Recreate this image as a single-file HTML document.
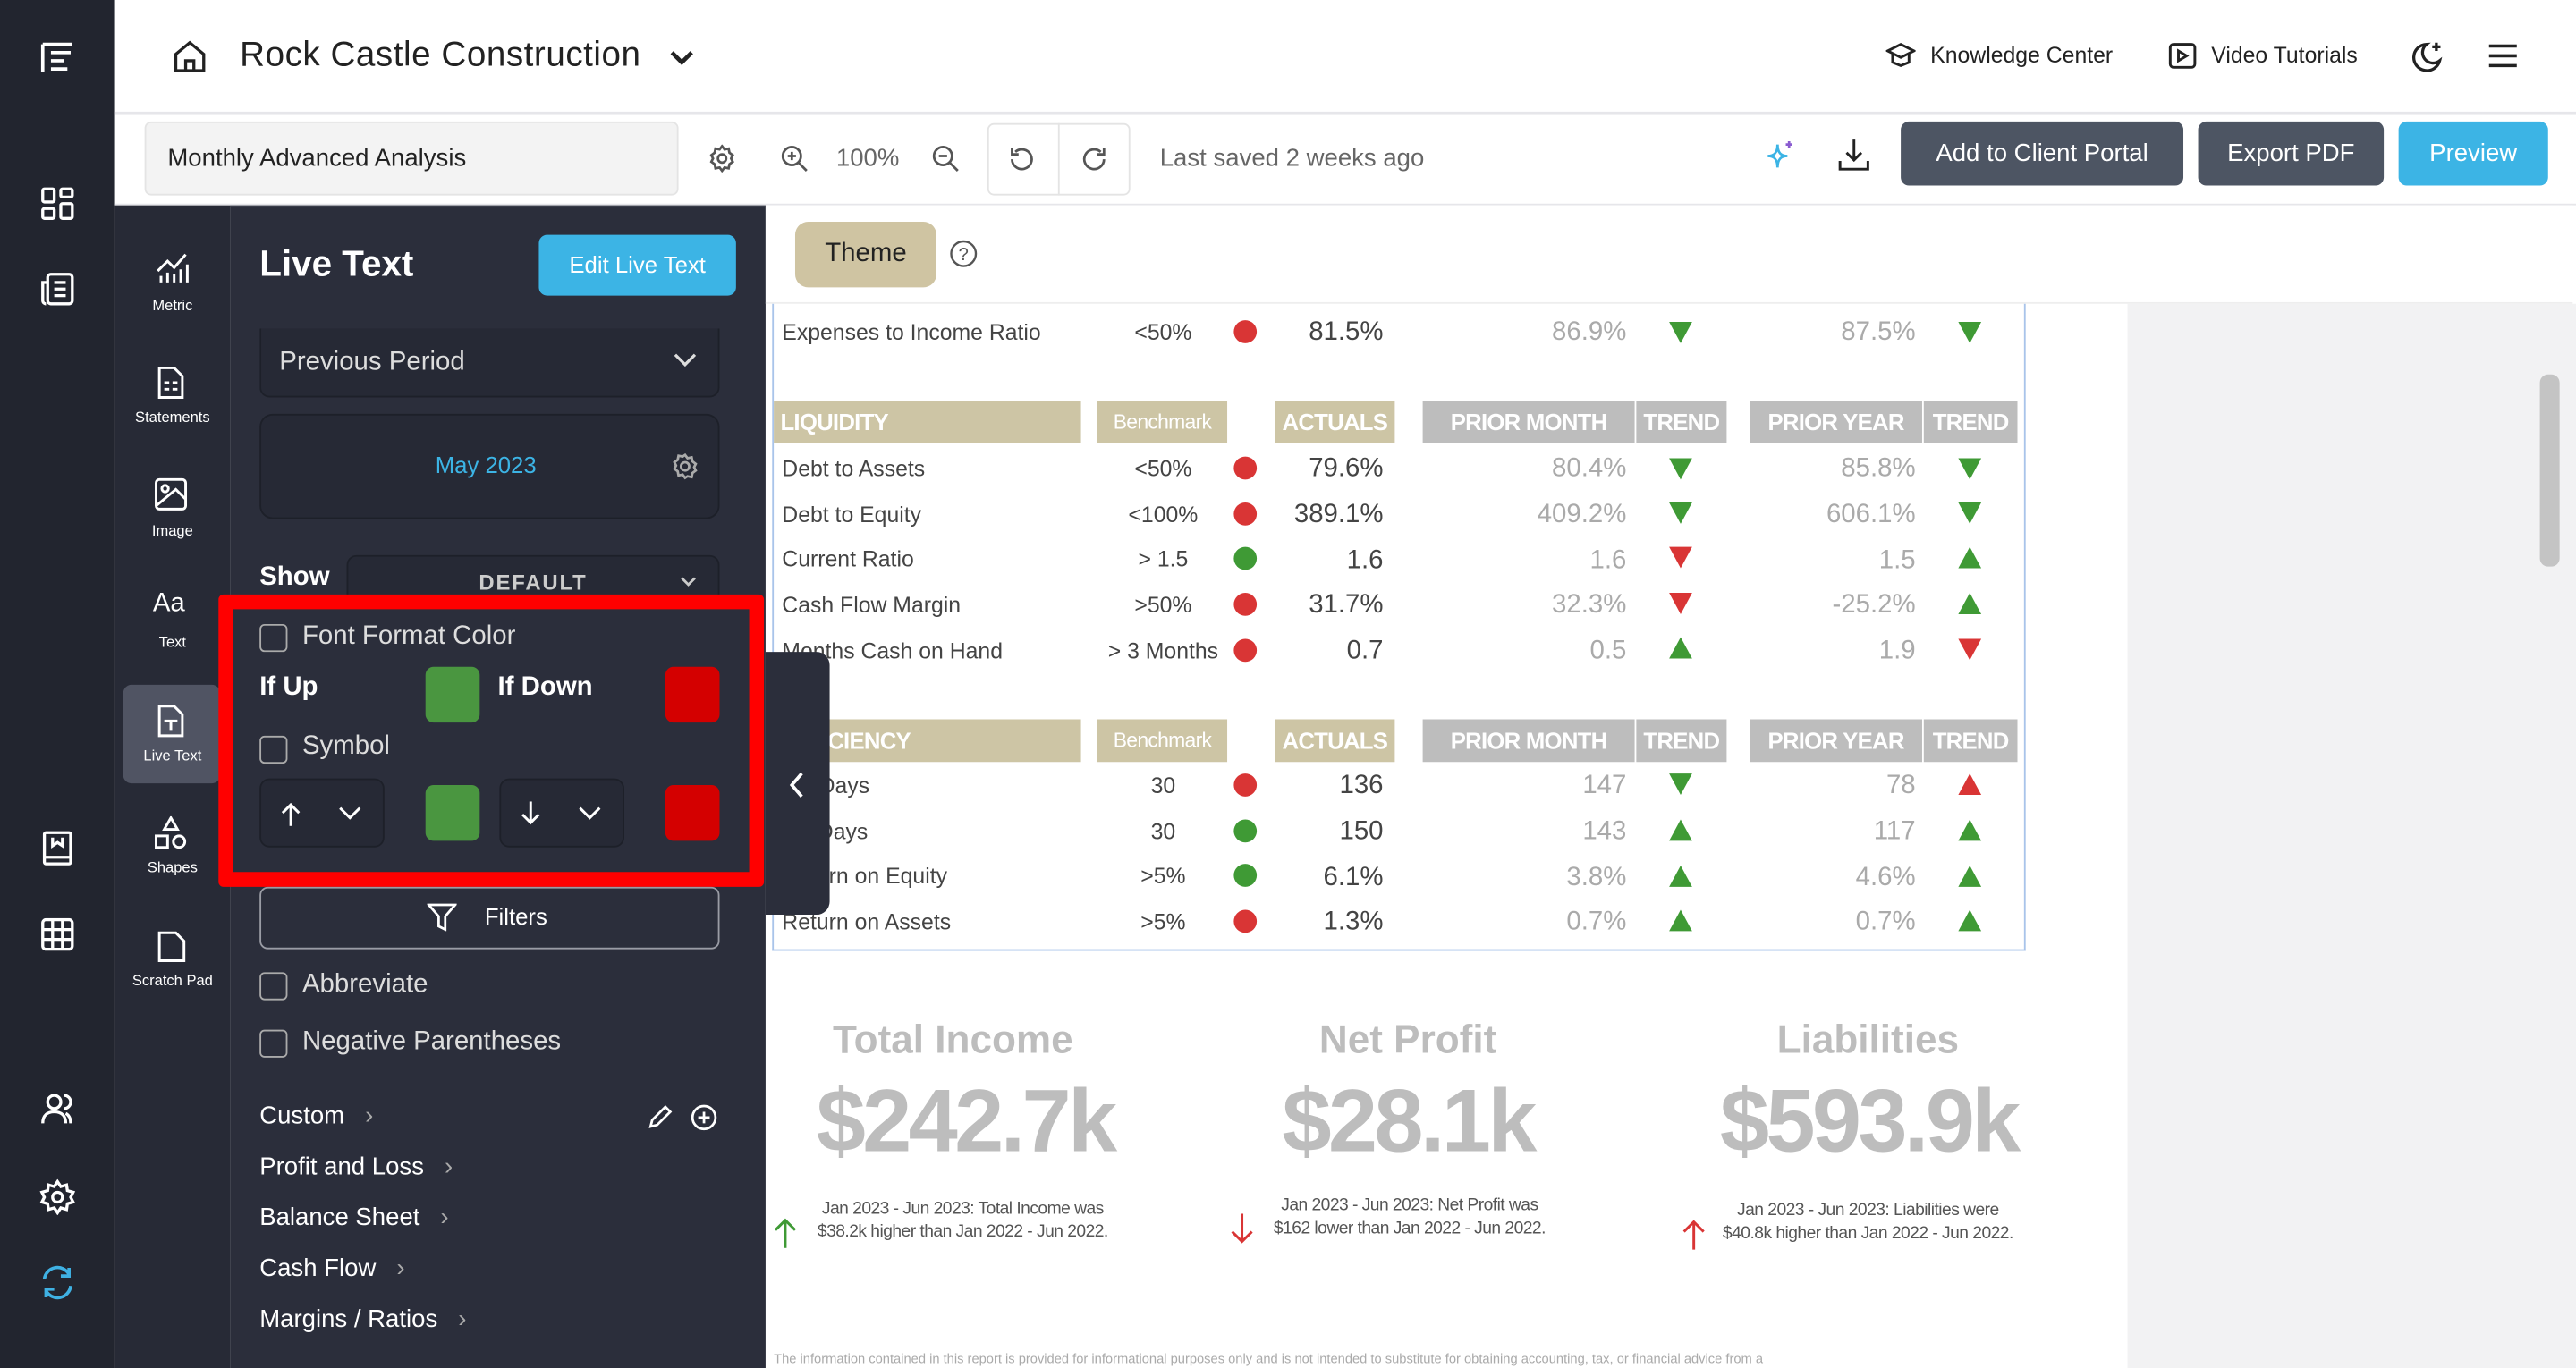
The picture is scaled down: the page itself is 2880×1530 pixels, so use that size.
<!DOCTYPE html>
<html><head><meta charset="utf-8"><style>
*{box-sizing:border-box;margin:0;padding:0}
html,body{width:2880px;height:1530px;overflow:hidden;background:#fff}
#s{position:absolute;left:0;top:0;width:1568px;height:833px;transform:scale(1.836735);transform-origin:0 0;font-family:"Liberation Sans",sans-serif;overflow:hidden;background:#fff}
.a{position:absolute}
.t{position:absolute;white-space:nowrap}
.n{font-family:"Liberation Sans Narrow","Liberation Sans",sans-serif}
.L{position:absolute;left:0;top:0;width:1568px;height:833px}
.ic{position:absolute;color:#fff;font-size:9px;text-align:center;width:70px}
.hd{position:absolute;height:26px;color:#fff;font-weight:bold;font-size:14px;letter-spacing:-0.4px;line-height:27px;background:#cdc5a5;overflow:hidden;white-space:nowrap}
.gh{background:#bdbdbd}
.dot{position:absolute;width:14px;height:14px;border-radius:50%}
.r{background:#d93535}.g{background:#3f9a35}
.tu,.td{position:absolute;width:0;height:0;border-left:7px solid transparent;border-right:7px solid transparent}
.tu{border-bottom:13px solid #3f9a35}
.td{border-top:13px solid #3f9a35}
.tu.x{border-bottom-color:#d93535}.td.x{border-top-color:#d93535}
.lb{position:absolute;left:476px;font-size:13.5px;color:#444}
.bm{position:absolute;width:80px;left:668px;text-align:center;font-size:13.5px;color:#444}
.ac{position:absolute;right:726px;font-size:16px;color:#444}
.pm{position:absolute;right:578px;font-size:16px;color:#aaa}
.py{position:absolute;right:402px;font-size:16px;color:#aaa}
.cb{position:absolute;width:17px;height:17px;border:1.5px solid #aaa;border-radius:3px}
</style></head><body><div id="s">
<!-- left bar -->
<div class="a" style="left:0;top:0;width:70px;height:833px;background:#22252f"></div>
<div class="a" style="left:70px;top:125px;width:70px;height:708px;background:#272a36"></div>
<div class="a" style="left:140px;top:125px;width:326px;height:708px;background:#2b2e3b"></div>
<div class="a" style="left:140px;top:125px;width:326px;height:1px;background:#3a3d4a"></div>
<svg class="a" style="left:24px;top:24px" width="22" height="22" viewBox="0 0 22 22" fill="none" stroke="#fff" stroke-width="2"><path d="M2 3h18M2 3v17M7 8h12M7 13h8M7 18h10"/></svg>
<svg class="a" style="left:25px;top:114px" width="20" height="20" fill="none" stroke="#fff" stroke-width="1.8"><rect x="1" y="1" width="7" height="8" rx="1"/><rect x="12" y="1" width="7" height="5" rx="1"/><rect x="1" y="13" width="7" height="6" rx="1"/><rect x="12" y="10" width="7" height="9" rx="1"/></svg>
<svg class="a" style="left:25px;top:166px" width="20" height="20" fill="none" stroke="#fff" stroke-width="1.8"><rect x="4" y="1" width="15" height="18" rx="2"/><path d="M4 6H1v11a2 2 0 0 0 2 2M8 6h7M8 10h7M8 14h7"/></svg>
<svg class="a" style="left:25px;top:506px" width="20" height="22" fill="none" stroke="#fff" stroke-width="1.8"><rect x="2" y="1" width="16" height="19" rx="1"/><path d="M2 16h16M7 4v5l3-2 3 2V4"/></svg>
<svg class="a" style="left:25px;top:559px" width="20" height="20" fill="none" stroke="#fff" stroke-width="1.8"><rect x="1" y="1" width="18" height="18" rx="2"/><path d="M1 7h18M1 13h18M7 1v18M13 1v18"/></svg>
<svg class="a" style="left:24px;top:665px" width="22" height="20" fill="none" stroke="#fff" stroke-width="1.8"><circle cx="9" cy="6" r="4"/><path d="M2 19c0-5 3-7 7-7s7 2 7 7M15 2a4 4 0 0 1 0 8M19 19c0-3-1-5-3-6"/></svg>
<svg class="a" style="left:24px;top:718px" width="22" height="22" fill="none" stroke="#fff" stroke-width="1.8"><circle cx="11" cy="11" r="3"/><path d="M11 1.5l2 3 3.5-1 .5 3.5 3.5 1-1.5 3 1.5 3-3.5 1-.5 3.5-3.5-1-2 3-2-3-3.5 1-.5-3.5-3.5-1 1.5-3-1.5-3 3.5-1 .5-3.5 3.5 1z"/></svg>
<svg class="a" style="left:24px;top:770px" width="22" height="22" fill="none" stroke="#3fb1e3" stroke-width="2"><path d="M3 9a8 8 0 0 1 15-3M19 13a8 8 0 0 1-15 3M18 2v5h-5M4 20v-5h5"/></svg>
<svg class="a" style="left:94px;top:153px" width="22" height="20" fill="none" stroke="#fff" stroke-width="1.6"><path d="M2 12l6-6 4 4 7-8M4 19v-4M8 19v-6M12 19v-5M16 19v-8M20 19v-11"/></svg>
<div class="ic" style="left:70px;top:181px">Metric</div>
<svg class="a" style="left:95px;top:222px" width="18" height="22" fill="none" stroke="#fff" stroke-width="1.6"><path d="M2 2h9l5 5v13H2z"/><path d="M5 11h3M10 11h3M5 15h3M10 15h3"/></svg>
<div class="ic" style="left:70px;top:249px">Statements</div>
<svg class="a" style="left:94px;top:291px" width="20" height="20" fill="none" stroke="#fff" stroke-width="1.6"><rect x="1" y="1" width="18" height="18" rx="2"/><circle cx="6.5" cy="6.5" r="2"/><path d="M1 17l12-10 6 6"/></svg>
<div class="ic" style="left:70px;top:318px">Image</div>
<div class="t" style="left:93px;top:359px;color:#fff;font-size:16px">Aa</div>
<div class="ic" style="left:70px;top:386px">Text</div>
<div class="a" style="left:75px;top:417px;width:59px;height:60px;border-radius:5px;background:#505463"></div>
<svg class="a" style="left:95px;top:428px" width="18" height="22" fill="none" stroke="#fff" stroke-width="1.6"><path d="M2 2h9l5 5v13H2z"/><path d="M5 11h8M9 11v6"/></svg>
<div class="ic" style="left:70px;top:455px">Live Text</div>
<svg class="a" style="left:94px;top:497px" width="20" height="20" fill="none" stroke="#fff" stroke-width="1.6"><path d="M10 1l4 7H6z"/><rect x="1" y="12" width="7" height="7"/><circle cx="15" cy="15.5" r="3.5"/></svg>
<div class="ic" style="left:70px;top:592px">Scratch Pad</div>
<div class="ic" style="left:70px;top:523px">Shapes</div>
<svg class="a" style="left:95px;top:566px" width="18" height="20" fill="none" stroke="#fff" stroke-width="1.6"><path d="M2 2h10l5 5v12H2z"/></svg>
<!-- panel -->
<div class="t" style="left:158px;top:148px;color:#fff;font-size:22px;font-weight:bold">Live Text</div>
<div class="a" style="left:328px;top:143px;width:120px;height:37px;border-radius:5px;background:#3cb4e5;color:#fff;font-size:14px;text-align:center;line-height:37px">Edit Live Text</div>
<div class="a" style="left:158px;top:200px;width:280px;height:42px;border:1px solid #1d2029;border-top:none;border-radius:0 0 6px 6px;background:#262935"></div>
<div class="t" style="left:170px;top:212px;color:#ddd;font-size:16px">Previous Period</div>
<svg class="a" style="left:410px;top:214px" width="14" height="10" fill="none" stroke="#ddd" stroke-width="1.8"><path d="M1 2l6 6 6-6"/></svg>
<div class="a" style="left:158px;top:252px;width:280px;height:64px;border:1px solid #1d2029;border-radius:8px;background:#262935"></div>
<div class="t" style="left:265px;top:275px;color:#3cb4e5;font-size:14px">May 2023</div>
<svg class="a" style="left:409px;top:276px" width="16" height="16" fill="none" stroke="#aaa" stroke-width="1.5"><circle cx="8" cy="8" r="2.5"/><path d="M8 1l1.5 2 2.5-.5.5 2.5 2 1.5-1 2 1 2-2 1.5-.5 2.5-2.5-.5L8 15l-1.5-2-2.5.5-.5-2.5-2-1.5 1-2-1-2 2-1.5.5-2.5 2.5.5z"/></svg>
<div class="t" style="left:158px;top:343px;color:#fff;font-size:16px;font-weight:bold">Show</div>
<div class="a" style="left:211px;top:338px;width:227px;height:30px;border:1px solid #1d2029;border-radius:6px;background:#262935;color:#ccc;font-size:13px;font-weight:bold;letter-spacing:1px;text-align:center;line-height:32px">DEFAULT</div>
<svg class="a" style="left:414px;top:351px" width="10" height="7" fill="none" stroke="#ccc" stroke-width="1.5"><path d="M1 1l4 4 4-4"/></svg>
<div class="a" style="left:133px;top:362px;width:332px;height:178px;border:9px solid #ff0000;border-radius:3px"></div>
<div class="cb" style="left:158px;top:380px"></div>
<div class="t" style="left:184px;top:379px;color:#ddd;font-size:16px">Font Format Color</div>
<div class="t" style="left:158px;top:410px;color:#fff;font-size:16px;font-weight:bold">If Up</div>
<div class="a" style="left:259px;top:406px;width:33px;height:34px;border-radius:5px;background:#4a9640"></div>
<div class="t" style="left:303px;top:410px;color:#fff;font-size:16px;font-weight:bold">If Down</div>
<div class="a" style="left:405px;top:406px;width:33px;height:34px;border-radius:5px;background:#d40000"></div>
<div class="cb" style="left:158px;top:448px"></div>
<div class="t" style="left:184px;top:446px;color:#ddd;font-size:16px">Symbol</div>
<div class="a" style="left:158px;top:474px;width:76px;height:42px;border:1px solid #1d2029;border-radius:6px;background:#262935"></div>
<svg class="a" style="left:171px;top:488px" width="12" height="15" fill="none" stroke="#fff" stroke-width="1.6"><path d="M6 15V2M1 7l5-5 5 5"/></svg>
<svg class="a" style="left:206px;top:491px" width="14" height="9" fill="none" stroke="#fff" stroke-width="1.6"><path d="M1 1l6 6 6-6"/></svg>
<div class="a" style="left:259px;top:478px;width:33px;height:34px;border-radius:5px;background:#4a9640"></div>
<div class="a" style="left:304px;top:474px;width:76px;height:42px;border:1px solid #1d2029;border-radius:6px;background:#262935"></div>
<svg class="a" style="left:317px;top:488px" width="12" height="15" fill="none" stroke="#fff" stroke-width="1.6"><path d="M6 0v13M1 8l5 5 5-5"/></svg>
<svg class="a" style="left:352px;top:491px" width="14" height="9" fill="none" stroke="#fff" stroke-width="1.6"><path d="M1 1l6 6 6-6"/></svg>
<div class="a" style="left:405px;top:478px;width:33px;height:34px;border-radius:5px;background:#d40000"></div>
<div class="a" style="left:158px;top:540px;width:280px;height:38px;border:1.5px solid #9a9ca5;border-radius:5px"></div>
<svg class="a" style="left:260px;top:550px" width="18" height="17" fill="none" stroke="#fff" stroke-width="1.5"><path d="M1 1h16l-6 7v8l-4-2V8z"/></svg>
<div class="t" style="left:295px;top:550px;color:#fff;font-size:14px">Filters</div>
<div class="cb" style="left:158px;top:592px"></div>
<div class="t" style="left:184px;top:591px;color:#ddd;font-size:16px">Abbreviate</div>
<div class="cb" style="left:158px;top:627px"></div>
<div class="t" style="left:184px;top:626px;color:#ddd;font-size:16px">Negative Parentheses</div>
<div class="t" style="left:158px;top:671px;color:#fff;font-size:15px">Custom &nbsp;&nbsp;<span style="color:#aaa">›</span></div>
<svg class="a" style="left:394px;top:672px" width="16" height="16" fill="none" stroke="#fff" stroke-width="1.5"><path d="M2 14l1-4 8-8 3 3-8 8z"/></svg>
<svg class="a" style="left:420px;top:672px" width="17" height="17" fill="none" stroke="#fff" stroke-width="1.5"><circle cx="8.5" cy="8.5" r="7"/><path d="M8.5 5v7M5 8.5h7"/></svg>
<div class="t" style="left:158px;top:702px;color:#fff;font-size:15px">Profit and Loss &nbsp;&nbsp;<span style="color:#aaa">›</span></div>
<div class="t" style="left:158px;top:733px;color:#fff;font-size:15px">Balance Sheet &nbsp;&nbsp;<span style="color:#aaa">›</span></div>
<div class="t" style="left:158px;top:764px;color:#fff;font-size:15px">Cash Flow &nbsp;&nbsp;<span style="color:#aaa">›</span></div>
<div class="t" style="left:158px;top:795px;color:#fff;font-size:15px">Margins / Ratios &nbsp;&nbsp;<span style="color:#aaa">›</span></div>
<!-- header -->
<div class="a" style="left:70px;top:68px;width:1498px;height:2px;background:#e6e6ea"></div>
<div class="a" style="left:70px;top:124px;width:1498px;height:1px;background:#e6e6ea"></div>
<svg class="a" style="left:105px;top:24px" width="21" height="20" fill="none" stroke="#222" stroke-width="1.8"><path d="M2 9L10.5 2 19 9v10H2z"/><path d="M8 19v-6h5v6"/></svg>
<div class="t" style="left:146px;top:22px;color:#222;font-size:21px;letter-spacing:0.3px">Rock Castle Construction</div>
<svg class="a" style="left:407px;top:30px" width="16" height="11" fill="none" stroke="#222" stroke-width="2.5"><path d="M2 2l6 6 6-6"/></svg>
<svg class="a" style="left:1148px;top:26px" width="18" height="15" fill="none" stroke="#222" stroke-width="1.6"><path d="M1 5l8-4 8 4-8 4z"/><path d="M4 7v5l5 2 5-2V7"/></svg>
<div class="t" style="left:1175px;top:26px;color:#222;font-size:13.5px">Knowledge Center</div>
<svg class="a" style="left:1320px;top:26px" width="17" height="16" fill="none" stroke="#222" stroke-width="1.6"><rect x="1" y="1" width="15" height="14" rx="2"/><path d="M6 5v6l5-3z"/></svg>
<div class="t" style="left:1346px;top:26px;color:#222;font-size:13.5px">Video Tutorials</div>
<svg class="a" style="left:1468px;top:24px" width="20" height="20" fill="none" stroke="#222" stroke-width="1.8"><path d="M9 3a8 8 0 1 0 8 10 6 6 0 0 1-8-10z"/><path d="M15 2v5M12.5 4.5h5"/></svg>
<svg class="a" style="left:1515px;top:27px" width="17" height="14" stroke="#222" stroke-width="2"><path d="M0 1h17M0 7h17M0 13h17"/></svg>
<!-- toolbar -->
<div class="a" style="left:88px;top:74px;width:325px;height:45px;border:1px solid #e4e4e4;border-radius:4px;background:#f3f3f3"></div>
<div class="t" style="left:102px;top:88px;color:#222;font-size:15px">Monthly Advanced Analysis</div>
<svg class="a" style="left:431px;top:88px" width="17" height="17" fill="none" stroke="#555" stroke-width="1.5"><circle cx="8.5" cy="8.5" r="2.5"/><path d="M8.5 1l1.5 2 2.5-.5.5 2.5 2 1.5-1 2 1 2-2 1.5-.5 2.5-2.5-.5-1.5 2-1.5-2-2.5.5-.5-2.5-2-1.5 1-2-1-2 2-1.5.5-2.5 2.5.5z"/></svg>
<svg class="a" style="left:475px;top:88px" width="17" height="17" fill="none" stroke="#555" stroke-width="1.5"><circle cx="7" cy="7" r="5.5"/><path d="M11 11l5 5M4.5 7h5M7 4.5v5"/></svg>
<div class="t" style="left:509px;top:88px;color:#666;font-size:15px">100%</div>
<svg class="a" style="left:567px;top:88px" width="17" height="17" fill="none" stroke="#555" stroke-width="1.5"><circle cx="7" cy="7" r="5.5"/><path d="M11 11l5 5M4.5 7h5"/></svg>
<div class="a" style="left:601px;top:75px;width:87px;height:44px;border:1px solid #e4e4e4;border-radius:4px"></div>
<div class="a" style="left:644px;top:75px;width:1px;height:44px;background:#e4e4e4"></div>
<svg class="a" style="left:613px;top:88px" width="18" height="18" fill="none" stroke="#555" stroke-width="1.5"><path d="M3 9a6 6 0 1 0 2-4.5M3 2v4h4"/></svg>
<svg class="a" style="left:657px;top:88px" width="18" height="18" fill="none" stroke="#555" stroke-width="1.5"><path d="M15 9a6 6 0 1 1-2-4.5M15 2v4h-4"/></svg>
<div class="t" style="left:706px;top:88px;color:#666;font-size:15px">Last saved 2 weeks ago</div>
<svg class="a" style="left:1074px;top:85px" width="18" height="18" fill="none" stroke="#3cb4e5" stroke-width="1.5"><path d="M8 3c0 5 2 7 6 7-4 0-6 2-6 7 0-5-2-7-6-7 4 0 6-2 6-7z"/><path d="M15 1v4M13 3h4" stroke="#8a5bd0"/></svg>
<svg class="a" style="left:1119px;top:84px" width="19" height="20" fill="none" stroke="#222" stroke-width="1.6"><path d="M9.5 1v12M5 9l4.5 4.5L14 9M1 14v5h17v-5"/></svg>
<div class="a" style="left:1157px;top:74px;width:172px;height:39px;border-radius:5px;background:#4d5563;color:#fff;font-size:15px;text-align:center;line-height:39px">Add to Client Portal</div>
<div class="a" style="left:1338px;top:74px;width:113px;height:39px;border-radius:5px;background:#4d5563;color:#fff;font-size:15px;text-align:center;line-height:39px">Export PDF</div>
<div class="a" style="left:1460px;top:74px;width:91px;height:39px;border-radius:5px;background:#3cb4e5;color:#fff;font-size:15px;text-align:center;line-height:39px">Preview</div>
<!-- content -->
<div class="a" style="left:1295px;top:185px;width:273px;height:648px;background:#f2f2f3"></div>
<div class="a" style="left:466px;top:125px;width:1100px;height:60px;background:#fff;border-bottom:1px solid #eee"></div>
<div class="a" style="left:1546px;top:228px;width:12px;height:117px;border-radius:5px;background:#c4c4c4"></div>
<div class="a" style="left:484px;top:135px;width:86px;height:40px;border-radius:8px;background:#cfc4a2;color:#222;font-size:16px;text-align:center;line-height:40px">Theme</div>
<svg class="a" style="left:578px;top:146px" width="17" height="17" fill="none" stroke="#555" stroke-width="1.3"><circle cx="8.5" cy="8.5" r="7.5"/><text x="8.5" y="12.5" font-size="11" text-anchor="middle" fill="#555" stroke="none" font-family="Liberation Sans">?</text></svg>
<div class="a" style="left:470px;top:185px;width:763px;height:394px;border:1.5px solid #a9c4ea;border-top:none"></div>
<div class="n L">
<div class="lb t" style="top:195px">Expenses to Income Ratio</div><div class="bm t" style="top:195px">&lt;50%</div><div class="dot r" style="left:751px;top:195px"></div>
<div class="ac t" style="top:194px">81.5%</div><div class="pm t" style="top:194px">86.9%</div><div class="td" style="left:1016px;top:196px"></div><div class="py t" style="top:194px">87.5%</div><div class="td" style="left:1192px;top:196px"></div>
<div class="hd" style="left:471px;top:244px;width:187px;padding-left:4px">LIQUIDITY</div>
<div class="hd" style="left:668px;top:244px;width:79px;font-weight:normal;font-size:12.5px;text-align:center">Benchmark</div>
<div class="hd" style="left:776px;top:244px;width:73px;text-align:center">ACTUALS</div>
<div class="hd gh" style="left:866px;top:244px;width:129px;text-align:center">PRIOR MONTH</div>
<div class="hd gh" style="left:996px;top:244px;width:55px;text-align:center">TREND</div>
<div class="hd gh" style="left:1065px;top:244px;width:105px;text-align:center">PRIOR YEAR</div>
<div class="hd gh" style="left:1171px;top:244px;width:57px;text-align:center">TREND</div>
<div class="lb t" style="top:278px">Debt to Assets</div><div class="bm t" style="top:278px">&lt;50%</div><div class="dot r" style="left:751px;top:278px"></div>
<div class="ac t" style="top:277px">79.6%</div><div class="pm t" style="top:277px">80.4%</div><div class="td" style="left:1016px;top:279px"></div><div class="py t" style="top:277px">85.8%</div><div class="td" style="left:1192px;top:279px"></div>
<div class="lb t" style="top:306px">Debt to Equity</div><div class="bm t" style="top:306px">&lt;100%</div><div class="dot r" style="left:751px;top:306px"></div>
<div class="ac t" style="top:305px">389.1%</div><div class="pm t" style="top:305px">409.2%</div><div class="td" style="left:1016px;top:306px"></div><div class="py t" style="top:305px">606.1%</div><div class="td" style="left:1192px;top:306px"></div>
<div class="lb t" style="top:333px">Current Ratio</div><div class="bm t" style="top:333px">&gt; 1.5</div><div class="dot g" style="left:751px;top:333px"></div>
<div class="ac t" style="top:333px">1.6</div><div class="pm t" style="top:333px">1.6</div><div class="td x" style="left:1016px;top:333px"></div><div class="py t" style="top:333px">1.5</div><div class="tu" style="left:1192px;top:333px"></div>
<div class="lb t" style="top:361px">Cash Flow Margin</div><div class="bm t" style="top:361px">&gt;50%</div><div class="dot r" style="left:751px;top:361px"></div>
<div class="ac t" style="top:360px">31.7%</div><div class="pm t" style="top:360px">32.3%</div><div class="td x" style="left:1016px;top:361px"></div><div class="py t" style="top:360px">-25.2%</div><div class="tu" style="left:1192px;top:361px"></div>
<div class="lb t" style="top:389px">Months Cash on Hand</div><div class="bm t" style="top:389px">&gt; 3 Months</div><div class="dot r" style="left:751px;top:389px"></div>
<div class="ac t" style="top:388px">0.7</div><div class="pm t" style="top:388px">0.5</div><div class="tu" style="left:1016px;top:388px"></div><div class="py t" style="top:388px">1.9</div><div class="td x" style="left:1192px;top:389px"></div>
<div class="hd" style="left:471px;top:438px;width:187px;padding-left:4px">EFFICIENCY</div>
<div class="hd" style="left:668px;top:438px;width:79px;font-weight:normal;font-size:12.5px;text-align:center">Benchmark</div>
<div class="hd" style="left:776px;top:438px;width:73px;text-align:center">ACTUALS</div>
<div class="hd gh" style="left:866px;top:438px;width:129px;text-align:center">PRIOR MONTH</div>
<div class="hd gh" style="left:996px;top:438px;width:55px;text-align:center">TREND</div>
<div class="hd gh" style="left:1065px;top:438px;width:105px;text-align:center">PRIOR YEAR</div>
<div class="hd gh" style="left:1171px;top:438px;width:57px;text-align:center">TREND</div>
<div class="lb t" style="top:471px">AR Days</div><div class="bm t" style="top:471px">30</div><div class="dot r" style="left:751px;top:471px"></div>
<div class="ac t" style="top:470px">136</div><div class="pm t" style="top:470px">147</div><div class="td" style="left:1016px;top:471px"></div><div class="py t" style="top:470px">78</div><div class="tu x" style="left:1192px;top:471px"></div>
<div class="lb t" style="top:499px">AP Days</div><div class="bm t" style="top:499px">30</div><div class="dot g" style="left:751px;top:499px"></div>
<div class="ac t" style="top:498px">150</div><div class="pm t" style="top:498px">143</div><div class="tu" style="left:1016px;top:499px"></div><div class="py t" style="top:498px">117</div><div class="tu" style="left:1192px;top:499px"></div>
<div class="lb t" style="top:526px">Return on Equity</div><div class="bm t" style="top:526px">&gt;5%</div><div class="dot g" style="left:751px;top:526px"></div>
<div class="ac t" style="top:526px">6.1%</div><div class="pm t" style="top:526px">3.8%</div><div class="tu" style="left:1016px;top:527px"></div><div class="py t" style="top:526px">4.6%</div><div class="tu" style="left:1192px;top:527px"></div>
<div class="lb t" style="top:554px">Return on Assets</div><div class="bm t" style="top:554px">&gt;5%</div><div class="dot r" style="left:751px;top:554px"></div>
<div class="ac t" style="top:553px">1.3%</div><div class="pm t" style="top:553px">0.7%</div><div class="tu" style="left:1016px;top:554px"></div><div class="py t" style="top:553px">0.7%</div><div class="tu" style="left:1192px;top:554px"></div>
</div>
<div class="a" style="left:466px;top:397px;width:39px;height:160px;background:#2b2e3b;border-radius:0 8px 8px 0"></div>
<svg class="a" style="left:480px;top:470px" width="10" height="16" fill="none" stroke="#fff" stroke-width="2"><path d="M8 1L2 8l6 7"/></svg>
<!-- KPIs -->
<div class="n L" style="color:#bdbdbd;font-weight:bold">
<div class="t" style="left:470px;top:620px;width:220px;text-align:center;font-size:24px">Total Income</div>
<div class="t" style="left:470px;top:652px;width:235px;text-align:center;font-size:54px;letter-spacing:-2px">$242.7k</div>
<div class="t" style="left:747px;top:620px;width:220px;text-align:center;font-size:24px">Net Profit</div>
<div class="t" style="left:747px;top:652px;width:220px;text-align:center;font-size:54px;letter-spacing:-2px">$28.1k</div>
<div class="t" style="left:1027px;top:620px;width:220px;text-align:center;font-size:24px">Liabilities</div>
<div class="t" style="left:1020px;top:652px;width:235px;text-align:center;font-size:54px;letter-spacing:-2px">$593.9k</div>
</div>
<div class="n a" style="left:495px;top:729px;width:182px;text-align:center;font-size:10.5px;letter-spacing:-0.3px;line-height:14px;color:#555">Jan 2023 - Jun 2023: Total Income was $38.2k higher than Jan 2022 - Jun 2022.</div>
<div class="n a" style="left:775px;top:727px;width:166px;text-align:center;font-size:10.5px;letter-spacing:-0.3px;line-height:14px;color:#555">Jan 2023 - Jun 2023: Net Profit was $162 lower than Jan 2022 - Jun 2022.</div>
<div class="n a" style="left:1046px;top:730px;width:182px;text-align:center;font-size:10.5px;letter-spacing:-0.3px;line-height:14px;color:#555">Jan 2023 - Jun 2023: Liabilities were $40.8k higher than Jan 2022 - Jun 2022.</div>
<svg class="a" style="left:471px;top:741px" width="14" height="19" fill="none" stroke="#3f9a35" stroke-width="1.6"><path d="M7 19V2M1 8l6-6 6 6"/></svg>
<svg class="a" style="left:749px;top:739px" width="14" height="19" fill="none" stroke="#d93535" stroke-width="1.6"><path d="M7 0v17M1 11l6 6 6-6"/></svg>
<svg class="a" style="left:1024px;top:742px" width="14" height="19" fill="none" stroke="#d93535" stroke-width="1.6"><path d="M7 19V2M1 8l6-6 6 6"/></svg>
<div class="t n" style="left:471px;top:823px;font-size:8px;color:#aaa">The information contained in this report is provided for informational purposes only and is not intended to substitute for obtaining accounting, tax, or financial advice from a</div>
</div></body></html>
